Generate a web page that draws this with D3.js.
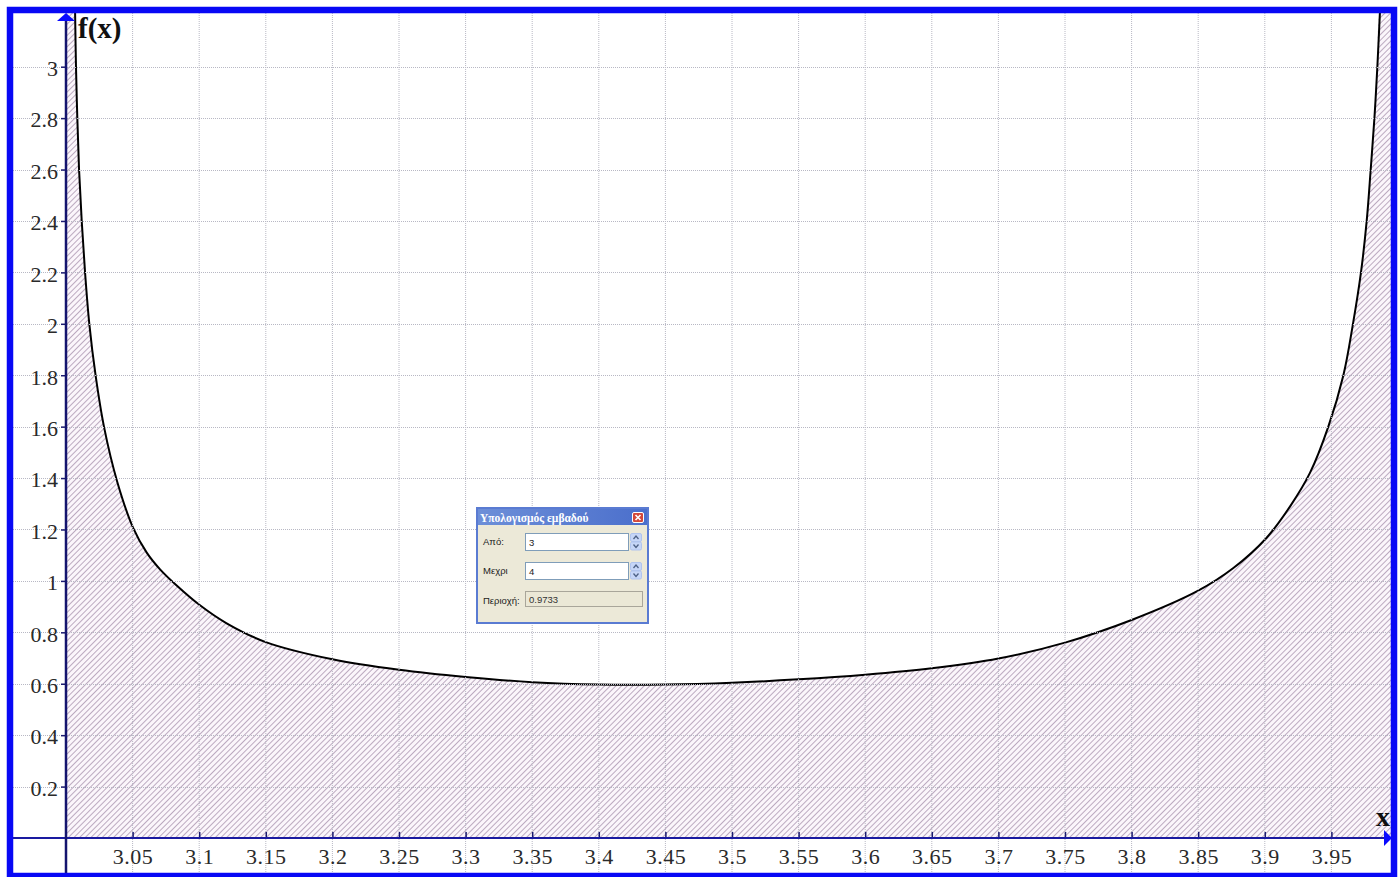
<!DOCTYPE html>
<html>
<head>
<meta charset="utf-8">
<script src="https://cdn.jsdelivr.net/npm/d3@7"></script>
<style>
  body { margin: 0; background: #fff; }
  svg { display: block; }
</style>
</head>
<body>
<script>
// curve (x, f(x))
var curveX = [3.0068, 3.0075, 3.0085, 3.0098, 3.0118, 3.0143, 3.0175, 3.0222, 3.0285, 3.0385,
              3.0505, 3.0606, 3.0706, 3.0831, 3.1006, 3.1206, 3.15, 3.20, 3.25, 3.30,
              3.35, 3.40, 3.45, 3.50, 3.55, 3.60, 3.65, 3.70, 3.75, 3.80,
              3.85, 3.8764, 3.9014, 3.919, 3.9339, 3.9477, 3.959, 3.9662, 3.9722, 3.9765,
              3.9795, 3.9823, 3.9845, 3.9865];
var curveY = [3.22, 3.00, 2.80, 2.60, 2.40, 2.20, 2.00, 1.80, 1.60, 1.385,
              1.205, 1.11, 1.045, 0.982, 0.905, 0.835, 0.762, 0.695, 0.654, 0.626,
              0.606, 0.597, 0.597, 0.604, 0.617, 0.635, 0.66, 0.698, 0.76, 0.848,
              0.962, 1.05, 1.168, 1.29, 1.42, 1.60, 1.80, 2.00, 2.20, 2.40,
              2.60, 2.80, 3.00, 3.22];

var xTicks = [3.05, 3.1, 3.15, 3.2, 3.25, 3.3, 3.35, 3.4, 3.45, 3.5, 3.55, 3.6, 3.65, 3.7, 3.75, 3.8, 3.85, 3.9, 3.95];
var xLabels = ['3.05', '3.1', '3.15', '3.2', '3.25', '3.3', '3.35', '3.4', '3.45', '3.5', '3.55', '3.6', '3.65', '3.7', '3.75', '3.8', '3.85', '3.9', '3.95'];
var yTicks = [0.2, 0.4, 0.6, 0.8, 1, 1.2, 1.4, 1.6, 1.8, 2, 2.2, 2.4, 2.6, 2.8, 3];
var yLabels = ['0.2', '0.4', '0.6', '0.8', '1', '1.2', '1.4', '1.6', '1.8', '2', '2.2', '2.4', '2.6', '2.8', '3'];

var areaFrom = 3, areaTo = 4, areaValue = '0.9733';

var W = 1398, H = 877;
var frame = {left: 10, top: 10, right: 1394, bottom: 876};
var origin = {x: 66, y: 838};

var x = d3.scaleLinear().domain([3, 4]).range([66, 1398]);
var y = d3.scaleLinear().domain([0, 3]).range([838, 66.7]);

var svg = d3.select('body').append('svg')
    .attr('width', W)
    .attr('height', H);

var defs = svg.append('defs');

var pat = defs.append('pattern')
    .attr('id', 'hatch')
    .attr('patternUnits', 'userSpaceOnUse')
    .attr('width', 4)
    .attr('height', 4)
    .attr('patternTransform', 'rotate(45)');
pat.append('rect').attr('width', 4).attr('height', 4).attr('fill', '#fbf6fb');
pat.append('line')
    .attr('x1', 0.5).attr('y1', 0).attr('x2', 0.5).attr('y2', 4)
    .attr('stroke', '#bcaac0')
    .attr('stroke-width', 1);

defs.append('clipPath').attr('id', 'plotClip')
    .append('rect')
    .attr('x', origin.x)
    .attr('y', frame.top + 3)
    .attr('width', frame.right - 3 - origin.x)
    .attr('height', origin.y - frame.top - 3);

var tg = defs.append('linearGradient').attr('id', 'titleGrad')
    .attr('x1', 0).attr('x2', 1).attr('y1', 0).attr('y2', 0);
tg.append('stop').attr('offset', 0).attr('stop-color', '#6d8fd8');
tg.append('stop').attr('offset', 1).attr('stop-color', '#4b6fcc');

// hatched area under the curve
var pts = curveX.map((d, i) => ({x: d, y: curveY[i]}));
var areaPts = [{x: 3, y: 3.4}].concat(pts, [{x: 4, y: 3.4}]);
var smooth = d3.curveCatmullRom.alpha(0.5);

var plot = svg.append('g').attr('clip-path', 'url(#plotClip)');

plot.append('path')
    .datum(areaPts)
    .attr('d', d3.area()
        .x((d) => x(d.x))
        .y0(y(0))
        .y1((d) => y(d.y))
        .curve(smooth))
    .attr('fill', 'url(#hatch)');

// grid
svg.append('g').selectAll('line')
    .data(xTicks)
    .enter()
        .append('line')
        .attr('x1', (d) => x(d)).attr('x2', (d) => x(d))
        .attr('y1', frame.top + 3).attr('y2', frame.bottom - 3)
        .attr('stroke', '#b8b8c4')
        .attr('stroke-width', 1)
        .attr('stroke-dasharray', '1,1');

svg.append('g').selectAll('line')
    .data(yTicks)
    .enter()
        .append('line')
        .attr('x1', frame.left + 3).attr('x2', frame.right - 3)
        .attr('y1', (d) => Math.round(y(d)) + 0.5).attr('y2', (d) => Math.round(y(d)) + 0.5)
        .attr('stroke', '#b8b8c4')
        .attr('stroke-width', 1)
        .attr('stroke-dasharray', '1,1');

// curve
plot.append('path')
    .datum(pts)
    .attr('d', d3.line()
        .x((d) => x(d.x))
        .y((d) => y(d.y))
        .curve(smooth))
    .attr('fill', 'none')
    .attr('stroke', '#000')
    .attr('stroke-width', 2);

// axes
var xAxis = d3.axisBottom(x)
    .tickValues(xTicks)
    .tickFormat((d, i) => xLabels[i])
    .tickSizeInner(-6)
    .tickSizeOuter(0)
    .tickPadding(10);

var gx = svg.append('g')
    .attr('transform', `translate(0, ${origin.y})`)
    .call(xAxis);
gx.select('.domain').remove();
gx.selectAll('line').attr('stroke', '#1a1a70').attr('stroke-width', 1.5);
gx.selectAll('text')
    .attr('font-family', '"Liberation Serif", serif')
    .attr('font-size', 22)
    .attr('letter-spacing', 0.5)
    .attr('fill', '#2a2a2a');

var yAxis = d3.axisLeft(y)
    .tickValues(yTicks)
    .tickFormat((d, i) => yLabels[i])
    .tickSizeInner(5)
    .tickSizeOuter(0)
    .tickPadding(3);

var gy = svg.append('g')
    .attr('transform', `translate(${origin.x}, 0)`)
    .call(yAxis);
gy.select('.domain').remove();
gy.selectAll('line').attr('stroke', '#1a1a70').attr('stroke-width', 1.5);
gy.selectAll('text')
    .attr('font-family', '"Liberation Serif", serif')
    .attr('font-size', 22)
    .attr('dy', '0.4em')
    .attr('fill', '#2a2a2a');

// axis lines and arrows
svg.append('line')
    .attr('x1', frame.left + 3).attr('x2', frame.right - 6)
    .attr('y1', origin.y).attr('y2', origin.y)
    .attr('stroke', '#1a1aa0').attr('stroke-width', 2);
svg.append('line')
    .attr('x1', origin.x).attr('x2', origin.x)
    .attr('y1', frame.top + 8).attr('y2', frame.bottom - 3)
    .attr('stroke', '#14146e').attr('stroke-width', 2.5);

svg.append('path')
    .attr('d', `M${origin.x},${frame.top + 3} L${origin.x - 9},${frame.top + 11} L${origin.x + 9},${frame.top + 11} Z`)
    .attr('fill', '#0a0aff');
svg.append('path')
    .attr('d', `M${frame.right - 2},${origin.y} L${frame.right - 10},${origin.y - 8} L${frame.right - 10},${origin.y + 8} Z`)
    .attr('fill', '#0a0aff');

svg.append('text')
    .attr('x', 78).attr('y', 38)
    .attr('font-family', '"Liberation Serif", serif')
    .attr('font-weight', 'bold')
    .attr('font-size', 29)
    .attr('fill', '#111')
    .text('f(x)');

svg.append('text')
    .attr('x', 1376).attr('y', 826)
    .attr('font-family', '"Liberation Serif", serif')
    .attr('font-weight', 'bold')
    .attr('font-size', 28)
    .attr('fill', '#111')
    .text('x');

// frame
svg.append('rect')
    .attr('x', frame.left).attr('y', frame.top)
    .attr('width', frame.right - frame.left)
    .attr('height', frame.bottom - frame.top)
    .attr('fill', 'none')
    .attr('stroke', '#0808f5')
    .attr('stroke-width', 6.5);

// area dialog
var dlg = svg.append('g').attr('transform', 'translate(477, 508)');
var sans = '"Liberation Sans", Arial, sans-serif';

dlg.append('rect')
    .attr('x', 0).attr('y', 0).attr('width', 171).attr('height', 115)
    .attr('fill', '#ece9d8')
    .attr('stroke', '#5a7bd2').attr('stroke-width', 2);
dlg.append('rect')
    .attr('x', 1).attr('y', 1).attr('width', 169).attr('height', 16)
    .attr('fill', 'url(#titleGrad)');
dlg.append('text')
    .attr('x', 3).attr('y', 13.5)
    .attr('font-family', '"Liberation Serif", serif')
    .attr('font-weight', 'bold')
    .attr('font-size', 11.5)
    .attr('fill', '#fff')
    .text('Υπολογισμός εμβαδού');

dlg.append('rect')
    .attr('x', 155.5).attr('y', 4.5).attr('width', 11).attr('height', 10)
    .attr('rx', 1.5)
    .attr('fill', '#d4483a').attr('stroke', '#fff').attr('stroke-width', 1);
dlg.append('path')
    .attr('d', 'M158.5,7 L163.5,12 M163.5,7 L158.5,12')
    .attr('stroke', '#fff').attr('stroke-width', 1.6);

var rowsY = [25, 54];
var rowLabels = ['Από:', 'Μεχρι'];
var rowValues = [String(areaFrom), String(areaTo)];

rowsY.forEach(function(ry, i) {
    dlg.append('text')
        .attr('x', 6).attr('y', ry + 12)
        .attr('font-family', sans).attr('font-size', 9.5)
        .attr('fill', '#222')
        .text(rowLabels[i]);
    dlg.append('rect')
        .attr('x', 48.5).attr('y', ry + 0.5).attr('width', 103).attr('height', 17)
        .attr('fill', '#fff').attr('stroke', '#7f9db9');
    dlg.append('text')
        .attr('x', 52).attr('y', ry + 12.5)
        .attr('font-family', sans).attr('font-size', 9.5)
        .attr('fill', '#222')
        .text(rowValues[i]);
    [0, 8.5].forEach(function(off, j) {
        dlg.append('rect')
            .attr('x', 153.5).attr('y', ry + 0.5 + off).attr('width', 11).attr('height', 8)
            .attr('rx', 1.5)
            .attr('fill', '#c6d6f7').attr('stroke', '#b0c4ee');
        var cy = ry + 4.5 + off;
        dlg.append('path')
            .attr('d', j === 0
                ? `M156.5,${cy + 1.5} L159,${cy - 1.5} L161.5,${cy + 1.5}`
                : `M156.5,${cy - 1.5} L159,${cy + 1.5} L161.5,${cy - 1.5}`)
            .attr('fill', 'none')
            .attr('stroke', '#4d6185').attr('stroke-width', 1.3);
    });
});

dlg.append('text')
    .attr('x', 6).attr('y', 96)
    .attr('font-family', sans).attr('font-size', 9.5)
    .attr('fill', '#222')
    .text('Περιοχή:');
dlg.append('rect')
    .attr('x', 48.5).attr('y', 83.5).attr('width', 117).attr('height', 15)
    .attr('fill', '#ebe8d6').attr('stroke', '#a9a69a');
dlg.append('text')
    .attr('x', 52).attr('y', 95)
    .attr('font-family', sans).attr('font-size', 9.5)
    .attr('fill', '#333')
    .text(areaValue);
</script>
</body>
</html>
